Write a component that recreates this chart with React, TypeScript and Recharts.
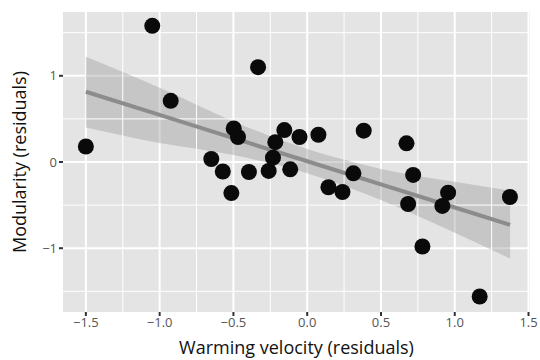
import React from 'react';
import {
  ComposedChart, Scatter, Line, Area, XAxis, YAxis, CartesianGrid, ReferenceLine,
} from 'recharts';

const pointX = [-1.5, -1.05, -0.925, -0.333, -0.498, -0.469, -0.65, -0.572, -0.514, -0.395, -0.261, -0.216, -0.232, -0.155, -0.115, -0.052, 0.076, 0.144, 0.239, 0.383, 0.673, 0.313, 0.718, 0.684, 0.955, 0.916, 0.781, 1.374, 1.169];
const pointY = [0.18, 1.58, 0.71, 1.1, 0.39, 0.29, 0.035, -0.11, -0.36, -0.116, -0.104, 0.23, 0.05, 0.37, -0.085, 0.29, 0.316, -0.293, -0.348, 0.363, 0.217, -0.131, -0.15, -0.487, -0.356, -0.51, -0.98, -0.406, -1.56];

const fitX = [-1.5, -1.0, -0.5, 0, 0.5, 1.0, 1.375];
const fitY = [0.815, 0.546, 0.277, 0.009, -0.26, -0.528, -0.73];
const bandLow = [0.4, 0.22, 0.08, -0.13, -0.44, -0.82, -1.12];
const bandHigh = [1.22, 0.86, 0.47, 0.15, -0.08, -0.23, -0.33];

const xTicks = [-1.5, -1.0, -0.5, 0, 0.5, 1.0, 1.5];
const yTicks = [-1, 0, 1];
const xMinor = [-1.25, -0.75, -0.25, 0.25, 0.75, 1.25];
const yMinor = [-1.5, -0.5, 0.5, 1.5];

const points = pointX.map((x, i) => ({ x, y: pointY[i] }));
const fitData = fitX.map((x, i) => ({ x, fit: fitY[i], band: [bandLow[i], bandHigh[i]] }));

const fmtX = (v: number) => (v < 0 ? '\u2212' + Math.abs(v).toFixed(1) : v.toFixed(1));
const fmtY = (v: number) => (v < 0 ? '\u2212' + Math.abs(v) : String(v));

const font = '"Open Sans", sans-serif';

export default function App() {
  return (
    <div style={{ position: 'absolute', left: 0, top: 0, background: '#fff' }}>
      <ComposedChart
        width={540}
        height={360}
        data={fitData}
        margin={{ top: 12, right: 10, bottom: 0, left: 0 }}
      >
        <CartesianGrid
          fill="#E4E4E5"
          stroke="#ffffff"
          strokeWidth={2}
          horizontalValues={yTicks}
          verticalValues={xTicks}
        />
        {xMinor.map((v) => (
          <ReferenceLine key={'xm' + v} x={v} stroke="#ffffff" strokeWidth={1} />
        ))}
        {yMinor.map((v) => (
          <ReferenceLine key={'ym' + v} y={v} stroke="#ffffff" strokeWidth={1} />
        ))}
        <XAxis
          dataKey="x"
          type="number"
          domain={[-1.655, 1.51]}
          allowDataOverflow
          ticks={xTicks}
          tickFormatter={fmtX}
          axisLine={false}
          tickLine={{ stroke: '#333', strokeWidth: 2 }}
          tickSize={4}
          tick={{ fill: '#555555', fontSize: 13, fontFamily: font }}
          height={48}
          label={{ value: 'Warming velocity (residuals)', position: 'insideBottom', offset: 6, style: { fontSize: 18, fontFamily: font, fill: '#111' } }}
        />
        <YAxis
          dataKey="y"
          type="number"
          domain={[-1.74, 1.74]}
          allowDataOverflow
          ticks={yTicks}
          tickFormatter={fmtY}
          axisLine={false}
          tickLine={{ stroke: '#333', strokeWidth: 2 }}
          tickSize={4}
          tick={{ fill: '#555555', fontSize: 13, fontFamily: font }}
          width={63}
          label={{ value: 'Modularity (residuals)', angle: -90, position: 'insideLeft', offset: 20, style: { textAnchor: 'middle', fontSize: 18, fontFamily: font, fill: '#111' } }}
        />
        <Scatter
          data={points}
          dataKey="y"
          isAnimationActive={false}
          shape={(p: any) => <circle cx={p.cx} cy={p.cy} r={8} fill="#0a0a0a" />}
        />
        <Area
          dataKey="band"
          type="monotone"
          stroke="none"
          fill="#999999"
          fillOpacity={0.4}
          isAnimationActive={false}
          activeDot={false}
          dot={false}
        />
        <Line
          dataKey="fit"
          type="linear"
          stroke="#8C8C8C"
          strokeWidth={4}
          dot={false}
          activeDot={false}
          isAnimationActive={false}
        />
      </ComposedChart>
    </div>
  );
}
